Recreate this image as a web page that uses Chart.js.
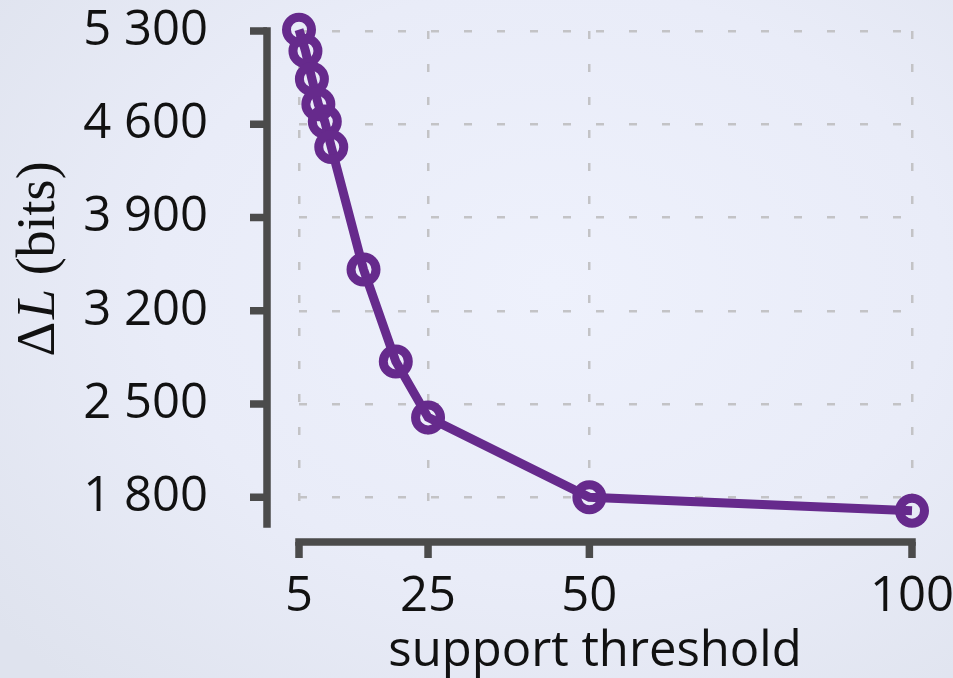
<!DOCTYPE html>
<html>
<head>
<meta charset="utf-8">
<script src="https://cdn.jsdelivr.net/npm/chart.js@4/dist/chart.umd.min.js"></script>
<style>
  html, body { margin: 0; padding: 0; }
  body {
    width: 953px; height: 678px; overflow: hidden;
    background: radial-gradient(ellipse 75% 80% at 58% 42%, #eef1fc 0%, #e9ecf8 55%, #dfe3ee 100%);
  }
  #wrap { position: relative; width: 953px; height: 678px; }
</style>
</head>
<body>
<div id="wrap"><canvas id="chart"></canvas></div>
<script>
// Description-length gain as a function of the support threshold
const thresholds = [5, 6, 7, 8, 9, 10, 15, 20, 25, 50, 100];
const deltaBits  = [5310, 5150, 4940, 4750, 4620, 4430, 3510, 2820, 2400, 1800, 1700];

const xTicks = [5, 25, 50, 100];
const xTickLabels = ['5', '25', '50', '100'];
const yTicks = [1800, 2500, 3200, 3900, 4600, 5300];
const yTickLabels = ['1 800', '2 500', '3 200', '3 900', '4 600', '5 300'];

const xTitle = 'support threshold';
const yTitleParts = [
  { text: '\u0394', italic: false },
  { text: 'L', italic: true },
  { text: ' (bits)', italic: false }
];

const ink = '#111111';
const spineColor = '#4b4b4b';
const lineColor = '#662a8c';
const tickFont = { family: "'Open Sans', 'Liberation Sans', sans-serif", size: 49 };

// Axis spines drawn detached from the plotting area, with outward tick marks
const offsetSpines = {
  id: 'offsetSpines',
  afterDraw(chart) {
    const { ctx, chartArea, scales: { x, y } } = chart;
    ctx.save();
    ctx.strokeStyle = spineColor;
    ctx.lineWidth = 7.5;

    const sx = chartArea.left - 32;
    const sy = chartArea.bottom + 18;

    ctx.lineCap = 'square';
    ctx.beginPath();
    ctx.moveTo(sx, y.getPixelForValue(y.max));
    ctx.lineTo(sx, y.getPixelForValue(y.min));
    ctx.moveTo(x.getPixelForValue(x.min), sy);
    ctx.lineTo(x.getPixelForValue(x.max), sy);
    ctx.stroke();

    ctx.lineCap = 'butt';
    ctx.beginPath();
    y.ticks.forEach(t => {
      const py = y.getPixelForValue(t.value);
      ctx.moveTo(sx, py);
      ctx.lineTo(sx - 17, py);
    });
    x.ticks.forEach(t => {
      const px = x.getPixelForValue(t.value);
      ctx.moveTo(px, sy);
      ctx.lineTo(px, sy + 16);
    });
    ctx.stroke();
    ctx.restore();
  }
};

// Axis titles: the y title mixes an upright delta with an italic L
const axisTitles = {
  id: 'axisTitles',
  afterDraw(chart) {
    const { ctx, chartArea } = chart;
    ctx.save();
    ctx.fillStyle = ink;

    ctx.font = "49px 'Open Sans', 'Liberation Sans', sans-serif";
    ctx.textAlign = 'center';
    ctx.textBaseline = 'alphabetic';
    ctx.fillText(xTitle, chartArea.left + 296, chartArea.bottom + 142);

    const serif = "'Liberation Serif', 'DejaVu Serif', serif";
    const fontFor = p => (p.italic ? 'italic ' : '') + '54px ' + serif;
    const widths = yTitleParts.map(p => { ctx.font = fontFor(p); return ctx.measureText(p.text).width; });
    const gap = 3;
    const total = widths.reduce((a, b) => a + b, 0) + gap;

    ctx.translate(54, 259);
    ctx.rotate(-Math.PI / 2);
    ctx.textAlign = 'left';
    let pos = -total / 2;
    yTitleParts.forEach((p, i) => {
      ctx.font = fontFor(p);
      ctx.fillText(p.text, pos, 0);
      pos += widths[i] + (i === 0 ? gap : 0);
    });
    ctx.restore();
  }
};

const gridStyle = { color: '#c3c3c6', lineWidth: 2.5, drawTicks: false };
const gridBorder = { display: false, dash: [8, 25] };

new Chart(document.getElementById('chart'), {
  type: 'line',
  data: {
    datasets: [{
      data: thresholds.map((t, i) => ({ x: t, y: deltaBits[i] })),
      borderColor: lineColor,
      borderWidth: 9,
      tension: 0,
      pointRadius: 12.5,
      pointHoverRadius: 12.5,
      pointBorderWidth: 9,
      pointBorderColor: lineColor,
      pointBackgroundColor: 'rgba(0,0,0,0)',
      clip: false
    }]
  },
  options: {
    responsive: true,
    maintainAspectRatio: false,
    animation: false,
    events: [],
    layout: { padding: { top: 31, right: 41, left: 0, bottom: 0 } },
    plugins: { legend: { display: false }, tooltip: { enabled: false } },
    scales: {
      x: {
        type: 'linear',
        min: 5,
        max: 100,
        grid: gridStyle,
        border: gridBorder,
        afterBuildTicks: s => { s.ticks = xTicks.map(v => ({ value: v })); },
        afterFit: s => { s.height = 154; s.paddingLeft = 0; s.paddingRight = 0; },
        ticks: {
          font: tickFont,
          color: ink,
          padding: 44,
          maxRotation: 0,
          autoSkip: false,
          callback: v => xTickLabels[xTicks.indexOf(v)]
        }
      },
      y: {
        type: 'linear',
        min: 1600,
        max: 5300,
        grid: gridStyle,
        border: gridBorder,
        afterBuildTicks: s => { s.ticks = yTicks.map(v => ({ value: v })); },
        afterFit: s => { s.width = 299; s.paddingTop = 0; s.paddingBottom = 0; },
        ticks: {
          font: tickFont,
          color: ink,
          padding: 91,
          autoSkip: false,
          callback: v => yTickLabels[yTicks.indexOf(v)]
        }
      }
    }
  },
  plugins: [offsetSpines, axisTitles]
});
</script>
</body>
</html>
